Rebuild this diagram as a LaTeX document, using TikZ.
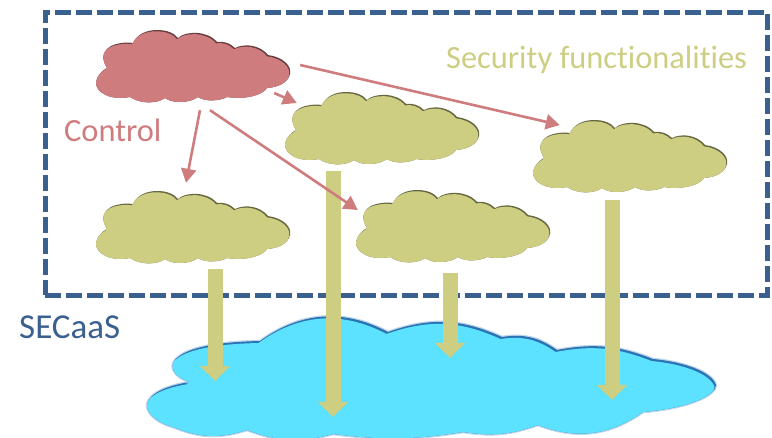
\documentclass[tikz,border=0pt]{standalone}
\usepackage{fontspec}
\setmainfont[Ligatures=NoCommon,Contextuals=NoAlternate]{Carlito}
\usetikzlibrary{arrows.meta}
\definecolor{boxblue}{HTML}{3A6090}
\definecolor{olive}{HTML}{CDCE82}
\definecolor{rosy}{HTML}{CF7C7E}
\definecolor{skyfill}{HTML}{5CE1FF}
\definecolor{skyedge}{HTML}{2A74B4}
\newcommand{\smallcloud}{(12,38) .. controls (7,30) and (6,22) .. (16,16) .. controls (22,13) and (30,12) .. (38,13) .. controls (42,4) and (52,0) .. (62,0) .. controls (72,0) and (79,3) .. (83,8) .. controls (90,1) and (112,0) .. (122,12) to[bend left=25] (140,18) .. controls (150,13) and (165,15) .. (173,25) .. controls (188,27) and (197,36) .. (195,44) .. controls (193,52) and (185,57) .. (172,58) .. controls (168,65) and (150,70) .. (132,67) .. controls (125,71) and (110,72) .. (103,67) .. controls (95,73) and (78,74) .. (70,68) .. controls (62,74) and (45,74) .. (35,67) .. controls (15,71) and (0,62) .. (1,52) .. controls (2,45) and (8,40) .. (12,38) -- cycle}
\newcommand{\bigcloud}{(190,382) .. controls (172,376) and (170,366) .. (175,360) .. controls (185,348) and (215,342) .. (260,341) to[bend left=32] (388,332) to[bend left=22] (502,337) to[bend left=22] (557,350) to[bend left=16] (653,359) .. controls (685,362) and (712,372) .. (716,385) .. controls (716,395) and (690,408) .. (643,412) to[bend left=28] (538,425) to[bend left=14] (463,432) to[bend left=8] (333,434) to[bend left=18] (247,430) to[bend left=20] (173,427) .. controls (155,422) and (146,412) .. (147,404) .. controls (150,392) and (170,385) .. (190,382) -- cycle}
\tikzset{
  x=1pt,y=-1pt,
  cloudnode/.style={minimum width=195pt,minimum height=72pt,inner sep=0pt},
  ctrlarrow/.style={draw=rosy,line width=2.6pt,-{Triangle[width=15pt,length=14pt]}},
  feedarrow/.style={draw=olive,line width=15pt,-{Triangle[width=30pt,length=15pt]}},
  labeltext/.style={font=\fontsize{32.4}{38}\selectfont,inner sep=0pt,anchor=base west},
  saastext/.style={font=\fontsize{35}{40}\selectfont,inner sep=0pt,anchor=base west},
}
\newcommand{\cloudat}[3]{%
  \begin{scope}[shift={(#1,#2)}]
    \fill[#3!50!black] \smallcloud;
    \begin{scope}
      \clip \smallcloud;
      \fill[#3,shift={(-1,1.3)}] \smallcloud;
    \end{scope}
  \end{scope}}
\begin{document}
\begin{tikzpicture}
\useasboundingbox (0,0) rectangle (772,437);
% sky cloud
\draw[skyedge!30,line width=2.5pt] \bigcloud;
\fill[skyedge] \bigcloud;
\begin{scope}
  \clip \bigcloud;
  \fill[skyfill,shift={(-1.5,2)}] \bigcloud;
\end{scope}
\node[minimum width=570pt,minimum height=119pt,inner sep=0pt] (sky) at (432,377.5) {};
% small clouds
\cloudat{95}{30}{rosy}
\cloudat{284}{92}{olive}
\cloudat{532}{120}{olive}
\cloudat{95}{191}{olive}
\cloudat{355}{190}{olive}
\node[cloudnode] (ctrl) at (192.5,66) {};
\node[cloudnode] (fa) at (381.5,128) {};
\node[cloudnode] (fb) at (629.5,156) {};
\node[cloudnode] (fc) at (192.5,227) {};
\node[cloudnode] (fd) at (452.5,226) {};
% frame
\node[draw=boxblue,line width=5pt,dash pattern=on 16pt off 5pt,minimum width=722pt,minimum height=283pt,inner sep=0pt] (frame) at (406,153.5) {};
% feed arrows
\draw[feedarrow] ([shift={(22.5,6)}]fc.south) -- ([shift={(-217,63)}]sky.north);
\draw[feedarrow] ([shift={(-48.5,7)}]fa.south) -- ([shift={(-99,99)}]sky.north);
\draw[feedarrow] ([shift={(-2.5,11)}]fd.south) -- ([shift={(18,40)}]sky.north);
\draw[feedarrow] ([shift={(-17.5,8)}]fb.south) -- ([shift={(180,82)}]sky.north);
% control arrows
\draw[ctrlarrow] ([shift={(10,-1)}]ctrl.east) -- ([shift={(28,-31)}]fb.west);
\draw[ctrlarrow] ([shift={(-16,27)}]ctrl.east) -- ([shift={(13,-25)}]fa.west);
\draw[ctrlarrow] ([shift={(7.5,8)}]ctrl.south) -- ([shift={(-6.5,-8)}]fc.north);
\draw[ctrlarrow] ([shift={(17.5,8)}]ctrl.south) -- ([shift={(3,-16)}]fd.west);
% labels
\node[labeltext,text=olive] (seclab) at (446,68) {Security functionalities};
\node[labeltext,text=rosy] (ctllab) at (64,141) {Control};
\node[saastext,text=boxblue] (saaslab) at (19,338) {SECaaS};
\end{tikzpicture}
\end{document}
